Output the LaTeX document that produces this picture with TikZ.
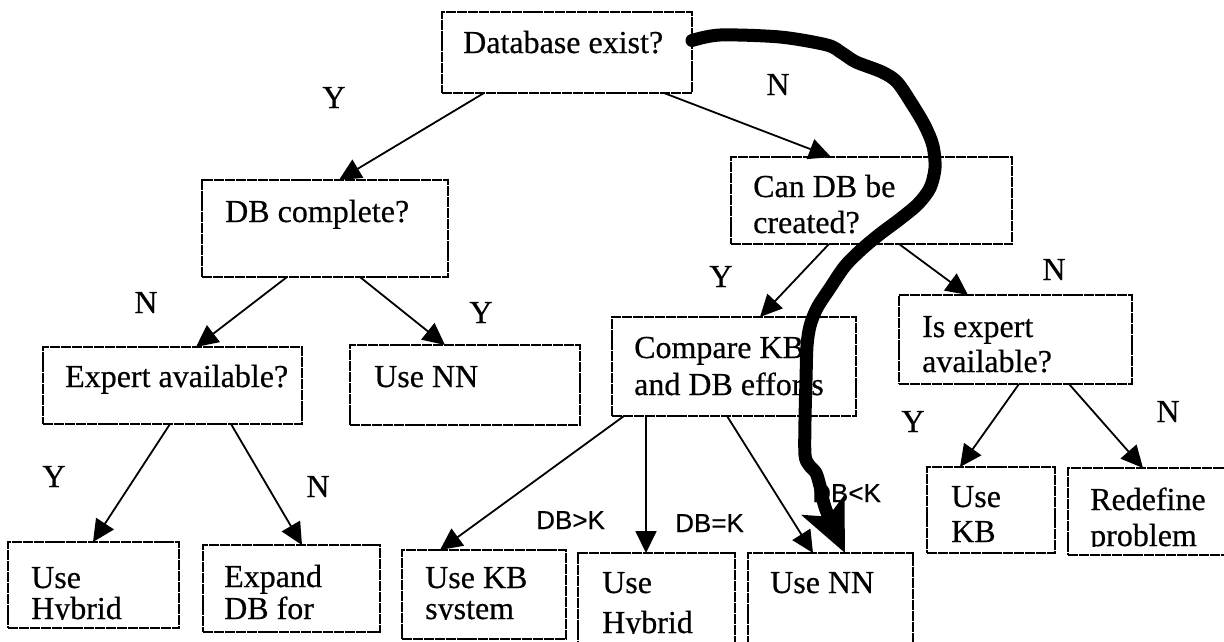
\documentclass[tikz,border=0pt]{standalone}
\usepackage{fontspec}
\setmainfont{Liberation Serif}[FakeBold=0.5]
\setsansfont{Liberation Sans}[FakeBold=0.4]
\usetikzlibrary{arrows.meta}

\begin{document}
\begin{tikzpicture}[x=1pt, y=-1pt,
  box/.style={draw, line width=1.6pt, dash pattern=on 10pt off 0.9pt,
    inner sep=0pt, outer sep=0pt, anchor=north west},
  txt/.style={anchor=base west, inner sep=0pt, font=\fontsize{32}{36}\selectfont},
  lab/.style={anchor=base, inner sep=0pt, font=\fontsize{32}{36}\selectfont},
  cmp/.style={anchor=base west, inner sep=0pt, font=\sffamily\fontsize{26}{28}\selectfont},
  link/.style={line width=1.8pt, -{Triangle[length=22pt, width=21pt]}},
  pen/.style={line width=13pt, line cap=round, line join=round,
    -{Stealth[length=52pt, width=46pt, inset=12pt]}}
]
\useasboundingbox (0,0) rectangle (1224,641);

% decision boxes
\node[box, minimum width=250pt, minimum height=81pt] (A) at (442,12) {};
\node[box, minimum width=246pt, minimum height=97pt] (B) at (202,180) {};
\node[box, minimum width=281pt, minimum height=87pt] (C) at (731,157) {};
\node[box, minimum width=244pt, minimum height=99pt] (D) at (612,317) {};
\node[box, minimum width=259pt, minimum height=77pt] (E) at (43,347) {};
\node[box, minimum width=230pt, minimum height=80pt] (F) at (350,345) {};
\node[box, minimum width=233pt, minimum height=89pt] (J) at (899,295) {};
% outcome boxes
\node[box, minimum width=171pt, minimum height=86pt] (G) at (8,542) {};
\node[box, minimum width=177pt, minimum height=87pt] (H) at (203,545) {};
\node[box, minimum width=164pt, minimum height=89pt] (I) at (402,550) {};
\node[box, minimum width=157pt, minimum height=110pt] (K) at (578,553) {};
\node[box, minimum width=165pt, minimum height=110pt] (L) at (748,553) {};
\node[box, minimum width=128pt, minimum height=86pt] (M) at (927,467) {};
\node[box, minimum width=170pt, minimum height=87pt] (N) at (1068,468) {};

% box texts
\node[txt] (At) at (463,53) {Database exist?};
\node[txt] (Bt) at (225,222) {DB complete?};
\node[txt] (Ct1) at (753,197) {Can DB be};
\node[txt] (Ct2) at (753,233) {created?};
\node[txt] (Dt1) at (634,358) {Compare KB};
\node[txt] (Dt2) at (634,395) {and DB efforts};
\node[txt] (Et) at (65,387) {Expert available?};
\node[txt] (Ft) at (374,387) {Use NN};
\node[txt] (Jt1) at (922,337) {Is expert};
\node[txt] (Jt2) at (922,372) {available?};
\begin{scope}
  \clip (8,542) rectangle (179,619);
  \node[txt] (Gt1) at (31,588) {Use};
  \node[txt] (Gt2) at (31,619) {Hybrid};
\end{scope}
\begin{scope}
  \clip (203,545) rectangle (380,621);
  \node[txt] (Ht1) at (224,587) {Expand};
  \node[txt] (Ht2) at (224,619) {DB for};
\end{scope}
\begin{scope}
  \clip (402,550) rectangle (566,619);
  \node[txt] (It1) at (425,588) {Use KB};
  \node[txt] (It2) at (425,619) {system};
\end{scope}
\begin{scope}
  \clip (578,553) rectangle (735,633);
  \node[txt] (Kt1) at (602,593) {Use};
  \node[txt] (Kt2) at (602,633) {Hybrid};
\end{scope}
\node[txt] (Lt) at (770,593) {Use NN};
\node[txt] (Mt1) at (951,507) {Use};
\node[txt] (Mt2) at (951,542) {KB};
\begin{scope}
  \clip (1068,468) rectangle (1224,546);
  \node[txt] (Nt1) at (1090,510) {Redefine};
  \node[txt] (Nt2) at (1090,546) {problem};
\end{scope}

% branch labels
\node[lab] (y1) at (334,108) {Y};
\node[lab] (n1) at (778,95) {N};
\node[lab] (n2) at (146,313) {N};
\node[lab] (y2) at (481,323) {Y};
\node[lab] (y3) at (721,287) {Y};
\node[lab] (n3) at (1054,280) {N};
\node[lab] (y4) at (54,487) {Y};
\node[lab] (n4) at (318,497) {N};
\node[lab] (y5) at (913,432) {Y};
\node[lab] (n5) at (1168,422) {N};
\node[cmp] (gt) at (536,529) {DB>K};
\node[cmp] (eq) at (675,532) {DB=K};
\node[cmp] (lt) at (812,502) {DB<K};

% connectors
\draw[link] ([xshift=42pt]A.south west) -- ([xshift=137pt]B.north west);
\draw[link] ([xshift=222pt]A.south west) -- ([xshift=100pt]C.north west);
\draw[link] ([xshift=85pt]B.south west) -- ([xshift=153pt]E.north west);
\draw[link] ([xshift=158pt]B.south west) -- ([xshift=95pt]F.north west);
\draw[link] ([xshift=98pt]C.south west) -- ([xshift=148pt]D.north west);
\draw[link] ([xshift=168pt]C.south west) -- ([xshift=69pt]J.north west);
\draw[link] ([xshift=127pt]E.south west) -- ([xshift=85pt]G.north west);
\draw[link] ([xshift=188pt]E.south west) -- ([xshift=99pt]H.north west);
\draw[link] ([xshift=12pt]D.south west) -- ([xshift=38pt]I.north west);
\draw[link] ([xshift=34pt]D.south west) -- ([xshift=68pt]K.north west);
\draw[link] ([xshift=115pt]D.south west) -- ([xshift=65pt]L.north west);
\draw[link] ([xshift=120pt]J.south west) -- ([xshift=33pt]M.north west);
\draw[link] ([xshift=170pt]J.south west) -- ([xshift=75pt]N.north west);

% heavy hand-drawn path
\draw[pen] plot[smooth, tension=0.5] coordinates {
  ([yshift=12pt]A.east) (720,35) (780,37) (827,45) (842,53) (856,62)
  (882,72) (897,82) (912,104) (925,126) (933,146) (935,168) (930,188)
  (918,204) (900,219) (880,234) (862,249) (845,266) (830,288) (817,308)
  (810,326) (807,346) (806,380) (805,420) (805,455) (809,465) (816,473)
  (820,486) (826,510) ([xshift=97pt]L.north west)};
\end{tikzpicture}
\end{document}
